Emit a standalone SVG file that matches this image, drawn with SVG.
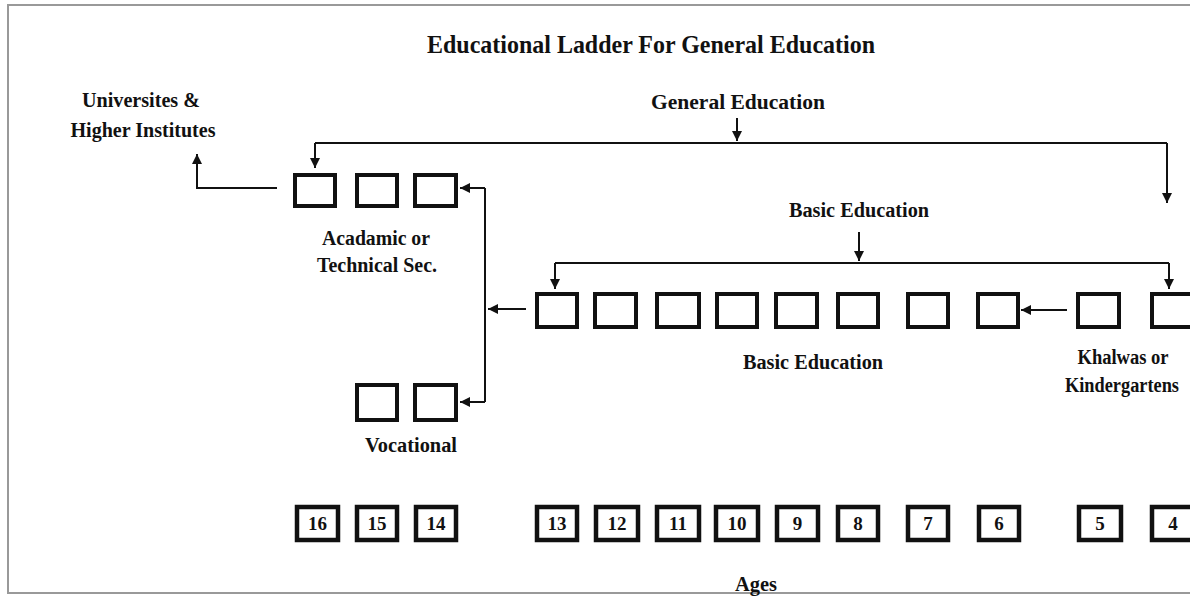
<svg xmlns="http://www.w3.org/2000/svg" width="1190" height="598" viewBox="0 0 1190 598">
<defs>
<style>
.t{font-family:"Liberation Serif","Times New Roman",serif;font-weight:bold;fill:#111;text-anchor:middle}
.box{fill:#fff;stroke:#111;stroke-width:4}
.age{fill:#fff;stroke:#111;stroke-width:4.5}
.num{font-family:"Liberation Serif","Times New Roman",serif;font-weight:bold;font-size:19px;fill:#111;text-anchor:middle}
.ln{fill:none;stroke:#111;stroke-width:2}
</style>
<marker id="ah" viewBox="0 0 10 10" refX="10" refY="5" markerWidth="10" markerHeight="10" markerUnits="userSpaceOnUse" orient="auto">
<path d="M0,0 L10,5 L0,10 Z" fill="#111"/>
</marker>
</defs>
<rect width="1190" height="598" fill="#fff"/>
<path d="M1190,5 H8 V593 H1190" fill="none" stroke="#999" stroke-width="2"/>

<text class="t" x="651" y="53" font-size="25" textLength="448" lengthAdjust="spacingAndGlyphs">Educational Ladder For General Education</text>

<g id="universities">
<text class="t" x="141" y="107" font-size="20" textLength="118" lengthAdjust="spacingAndGlyphs">Universites &amp;</text>
<text class="t" x="143" y="137" font-size="20" textLength="145" lengthAdjust="spacingAndGlyphs">Higher Institutes</text>
</g>

<g id="general-label">
<text class="t" x="738" y="109" font-size="20" textLength="174" lengthAdjust="spacingAndGlyphs">General Education</text>
</g>

<g id="basic-label">
<text class="t" x="859" y="217" font-size="20" textLength="140" lengthAdjust="spacingAndGlyphs">Basic Education</text>
</g>

<g id="academic">
<rect class="box" x="295" y="175" width="40" height="31"/>
<rect class="box" x="357" y="175" width="40" height="31"/>
<rect class="box" x="415" y="175" width="41" height="31"/>
<text class="t" x="376" y="245" font-size="20" textLength="108" lengthAdjust="spacingAndGlyphs">Acadamic or</text>
<text class="t" x="377" y="272" font-size="20" textLength="120" lengthAdjust="spacingAndGlyphs">Technical Sec.</text>
</g>

<g id="vocational">
<rect class="box" x="357" y="385" width="40" height="35"/>
<rect class="box" x="415" y="385" width="41" height="35"/>
<text class="t" x="411" y="452" font-size="20" textLength="92" lengthAdjust="spacingAndGlyphs">Vocational</text>
</g>

<g id="basic">
<rect class="box" x="537" y="294" width="40" height="33"/>
<rect class="box" x="595" y="294" width="41" height="33"/>
<rect class="box" x="657" y="294" width="42" height="33"/>
<rect class="box" x="717" y="294" width="40" height="33"/>
<rect class="box" x="776" y="294" width="41" height="33"/>
<rect class="box" x="838" y="294" width="40" height="33"/>
<rect class="box" x="908" y="294" width="40" height="33"/>
<rect class="box" x="978" y="294" width="40" height="33"/>
<text class="t" x="813" y="369" font-size="20" textLength="140" lengthAdjust="spacingAndGlyphs">Basic Education</text>
</g>

<g id="kindergarten">
<rect class="box" x="1078" y="294" width="41" height="33"/>
<rect class="box" x="1152" y="294" width="41" height="33"/>
<text class="t" x="1123" y="364" font-size="20" textLength="91" lengthAdjust="spacingAndGlyphs">Khalwas or</text>
<text class="t" x="1122" y="392" font-size="20" textLength="114" lengthAdjust="spacingAndGlyphs">Kindergartens</text>
</g>

<g id="ages">
<rect class="age" x="297" y="507" width="41" height="33"/><text class="num" x="317.5" y="530">16</text>
<rect class="age" x="357" y="507" width="40" height="33"/><text class="num" x="377" y="530">15</text>
<rect class="age" x="416" y="507" width="40" height="33"/><text class="num" x="436" y="530">14</text>
<rect class="age" x="537" y="507" width="40" height="33"/><text class="num" x="557" y="530">13</text>
<rect class="age" x="596" y="507" width="42" height="33"/><text class="num" x="617" y="530">12</text>
<rect class="age" x="657" y="507" width="42" height="33"/><text class="num" x="678" y="530">11</text>
<rect class="age" x="716" y="507" width="42" height="33"/><text class="num" x="737" y="530">10</text>
<rect class="age" x="777" y="507" width="41" height="33"/><text class="num" x="797.5" y="530">9</text>
<rect class="age" x="838" y="507" width="40" height="33"/><text class="num" x="858" y="530">8</text>
<rect class="age" x="908" y="507" width="40" height="33"/><text class="num" x="928" y="530">7</text>
<rect class="age" x="979" y="507" width="40" height="33"/><text class="num" x="999" y="530">6</text>
<rect class="age" x="1079" y="507" width="42" height="33"/><text class="num" x="1100" y="530">5</text>
<rect class="age" x="1152" y="507" width="42" height="33"/><text class="num" x="1173" y="530">4</text>
<text class="t" x="756" y="591" font-size="20" textLength="42" lengthAdjust="spacingAndGlyphs">Ages</text>
</g>

<g id="connectors">
<path class="ln" d="M737,118 V141" marker-end="url(#ah)"/>
<path class="ln" d="M315,143 H1167"/>
<path class="ln" d="M315,143 V168" marker-end="url(#ah)"/>
<path class="ln" d="M1167,143 V203" marker-end="url(#ah)"/>
<path class="ln" d="M859,232 V261" marker-end="url(#ah)"/>
<path class="ln" d="M555,263 H1169"/>
<path class="ln" d="M555,263 V289" marker-end="url(#ah)"/>
<path class="ln" d="M1169,263 V289" marker-end="url(#ah)"/>
<path class="ln" d="M1067,310 H1021" marker-end="url(#ah)"/>
<path class="ln" d="M526,309 H488" marker-end="url(#ah)"/>
<path class="ln" d="M485,188 V402"/>
<path class="ln" d="M485,188 H460" marker-end="url(#ah)"/>
<path class="ln" d="M485,402 H460" marker-end="url(#ah)"/>
<path class="ln" d="M277,188 H197 V154" marker-end="url(#ah)"/>
</g>
</svg>
